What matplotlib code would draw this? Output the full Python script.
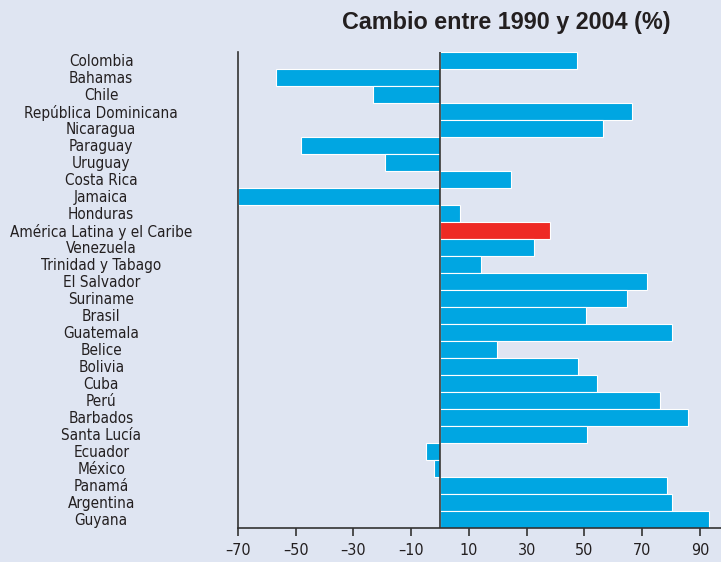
import numpy as np
import matplotlib
matplotlib.use("Agg")
import matplotlib.pyplot as plt
from matplotlib import font_manager

paises = ["Colombia", "Bahamas", "Chile", "República Dominicana", "Nicaragua",
          "Paraguay", "Uruguay", "Costa Rica", "Jamaica", "Honduras",
          "América Latina y el Caribe", "Venezuela", "Trinidad y Tabago",
          "El Salvador", "Suriname", "Brasil", "Guatemala", "Belice", "Bolivia",
          "Cuba", "Perú", "Barbados", "Santa Lucía", "Ecuador", "México",
          "Panamá", "Argentina", "Guyana"]
cambio = [47.3, -56.7, -23.4, 66.6, 56.4, -48.1, -19.0, 24.6, -70.0, 6.8,
          38.1, 32.6, 14.2, 71.6, 64.7, 50.5, 80.4, 19.7, 47.9, 54.2, 76.1,
          85.9, 50.9, -4.8, -2.1, 78.7, 80.4, 93.0]
destacado = "América Latina y el Caribe"
ticks_x = [-70, -50, -30, -10, 10, 30, 50, 70, 90]

fondo = "#dfe5f2"
azul = "#00a6e2"
rojo = "#ee2a24"
texto = "#231f20"

# fuente del titulo: buscar el archivo Liberation Sans Bold normal (no Narrow)
fp_titulo = font_manager.FontProperties(family="DejaVu Sans", weight="bold")
for f in font_manager.fontManager.ttflist:
    if f.name == "Liberation Sans" and f.weight == 700 and f.style == "normal" \
            and "narrow" not in f.fname.lower():
        fp_titulo = font_manager.FontProperties(fname=f.fname)
        break

fig = plt.figure(figsize=(7.21, 5.62), dpi=100, facecolor=fondo)
ax = fig.add_axes([238 / 721, 34 / 562, 1 - 238 / 721, 476 / 562])
ax.set_facecolor(fondo)

y = np.arange(len(paises))
colores = [rojo if p == destacado else azul for p in paises]
ax.barh(y, cambio, height=0.97, color=colores, edgecolor="white", linewidth=0.8, zorder=2)
ax.axvline(0, color="#333333", lw=1.2, zorder=3)

ax.set_ylim(len(paises) - 0.5, -0.5)
ax.set_xlim(-70, 97.3)
ax.set_xticks(ticks_x)
ax.set_xticklabels(["\u2013" + str(-t) if t < 0 else str(t) for t in ticks_x],
                   fontfamily="DejaVu Sans", fontstretch="condensed", fontsize=11.5, color=texto)
ax.tick_params(axis="x", direction="out", length=6, width=1.2, color="#333333", pad=5)

ax.set_yticks(y)
ax.set_yticklabels(paises, fontfamily="DejaVu Sans", fontstretch="condensed",
                   fontsize=11, color=texto, ha="center")
ax.tick_params(axis="y", length=0, pad=98.5)

for lado in ["top", "right"]:
    ax.spines[lado].set_visible(False)
for lado in ["left", "bottom"]:
    ax.spines[lado].set_color("#333333")
    ax.spines[lado].set_linewidth(1.2)

fp_titulo.set_size(16.8)
fig.text(506 / 721, 1 - 22 / 562, "Cambio entre 1990 y 2004 (%)", ha="center", va="center",
         fontproperties=fp_titulo, color=texto)

fig.savefig("out.png", dpi=100, facecolor=fondo)
